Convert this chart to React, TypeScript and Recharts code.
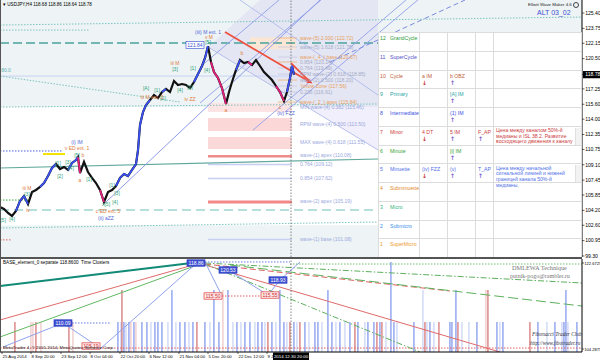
import React from 'react';
import {
  ComposedChart, Line, Area, Bar, Cell, Scatter, XAxis, YAxis, ReferenceArea, ReferenceLine,
} from 'recharts';

// ---------------- DATA ----------------
// Price path (bar index along time axis, close value)
const priceBar = [0, 4, 8, 12, 16, 20, 24, 28, 32, 36, 40, 44, 48, 52, 56, 60, 64, 68, 72, 76, 78, 80, 84, 88, 92, 96, 100, 104, 108, 112, 116, 120, 124, 128, 132, 136, 138, 140, 143, 146, 150, 154, 158, 162, 166, 170, 174, 178, 182, 186, 190, 194, 198, 202, 205, 208, 211, 214, 218, 222, 226, 229, 232, 236, 240, 244, 248, 252, 256, 260, 264, 268, 272, 276, 280, 284, 287, 290, 292, 294];
const priceClose = [104.56, 104.35, 103.92, 103.6, 104.13, 105.21, 105.74, 104.88, 106.17, 106.39, 106.71, 107.14, 107.89, 108.75, 109.18, 108.64, 108.86, 108.54, 109.29, 109.61, 109.93, 108.21, 109.4, 108.32, 107.68, 107.14, 106.39, 105.1, 106.17, 106.39, 106.82, 107.68, 108.11, 107.89, 108.54, 109.18, 110.68, 113.37, 114.77, 115.52, 116.06, 116.59, 116.27, 116.91, 117.24, 116.91, 118.1, 117.67, 117.77, 117.67, 117.34, 117.99, 118.85, 119.71, 120.57, 121.84, 120.14, 119.06, 118.42, 117.34, 115.63, 116.91, 117.99, 119.28, 120.35, 120.03, 120.14, 119.81, 120.35, 119.71, 119.06, 118.63, 118.2, 117.56, 116.91, 115.95, 116.91, 118.42, 119.71, 118.78];
const upWaves = [[16, 28], [40, 56], [68, 78], [116, 136], [136, 150], [162, 166], [194, 208], [236, 240], [287, 294]];
const downWaves = [[78, 80], [100, 104], [211, 218], [222, 226], [248, 252], [276, 284]];
const currentPrice = 118.78;
const cursorBar = 291;

// Main price axis ticks
const mainTicks = [125.4, 123.75, 122.15, 120.5, 118.78, 117.25, 115.6, 114.0, 112.35, 110.75, 109.1, 107.45, 105.85, 104.2, 102.6, 100.95, 99.3];

// Time axis
const xTickBars = [2, 31, 61, 90, 120, 149, 179, 208, 238, 267];
const xTickLabels = ['25 Aug 2014', '8 Sep 20:00', '23 Sep 12:00', '8 Oct 04:00', '22 Oct 20:00', '6 Nov 12:00', '21 Nov 04:00', '5 Dec 20:00', '22 Dec 12:00', '9 Jan 04:00'];
const cursorLabel = '2014.12.30 20:00';

// Fibonacci target zones (bar span, price range)
const zoneStart = 208;
const zoneEnd = 292;
const targetZones = [
  { id: 'min4', lo: 114.77, hi: 115.73 },
  { id: 'rpm4', lo: 112.73, hi: 114.12 },
  { id: 'max4', lo: 110.79, hi: 112.08 },
  { id: 'apex1', lo: 109.88, hi: 110.15 },
  { id: 'apex2', lo: 104.94, hi: 105.26 },
  { id: 'upper', lo: 121.5, hi: 122.8 },
];
const thinLevels = [109.12, 107.62, 101.08];
const upperLevels = [122.72, 121.75, 120.67, 120.14, 119.49, 118.85, 118.2, 117.56, 116.91, 115.84];

const levelLabels = [
  { v: 122.72, text: 'wave-(5) 2.000 (122.72)', tone: 'orange' },
  { v: 121.75, text: 'wave-(5) 1.618 (121.75)', tone: 'grey' },
  { v: 120.67, text: 'wave-(_4_) base (120.67)', tone: 'orange' },
  { v: 120.14, text: '0.854 (120.14)', tone: 'grey' },
  { v: 119.49, text: '0.764 (119.49)', tone: 'grey' },
  { v: 118.85, text: 'RPM wave-(2) 0.618 (118.85)', tone: 'grey' },
  { v: 118.2, text: 'wave-(2) 0.500 (118.20)', tone: 'grey' },
  { v: 117.56, text: 'Yellow Zone (117.56)', tone: 'orange' },
  { v: 116.91, text: '0.236 (116.91)', tone: 'grey' },
  { v: 115.84, text: 'wave-(_2_) apex (115.84)', tone: 'orange' },
  { v: 115.3, text: 'MIN wave-(4) 0.382 (115.46)', tone: 'blue' },
  { v: 113.5, text: 'RPM wave-(4) 0.500 (113.50)', tone: 'blue' },
  { v: 111.55, text: 'MAX wave-(4) 0.618 (111.55)', tone: 'blue' },
  { v: 110.08, text: 'wave-(1) apex (110.08)', tone: 'blue' },
  { v: 109.12, text: '0.764 (109.12)', tone: 'blue' },
  { v: 107.62, text: '0.854 (107.62)', tone: 'blue' },
  { v: 105.19, text: 'wave-(2) apex (105.19)', tone: 'blue' },
  { v: 101.08, text: 'wave-(1) base (101.08)', tone: 'blue' },
];
const levelLabelBar = 300;

// Wave labels
const waveLabels = [
  { x: 77, v: 111.54, text: '(i) IM', tone: 'blue' },
  { x: 77, v: 110.9, text: 'v ED ext. 1', tone: 'orange' },
  { x: 77, v: 110.15, text: '[5]', tone: 'green' },
  { x: 27, v: 106.6, text: 'iii M', tone: 'orange' },
  { x: 27, v: 105.9, text: '[3]', tone: 'green' },
  { x: 28, v: 104.24, text: 'iv', tone: 'orange' },
  { x: 12, v: 103.27, text: '[4]', tone: 'green' },
  { x: 3, v: 103.1, text: '[5]', tone: 'green' },
  { x: 58, v: 109.29, text: '[1]', tone: 'green' },
  { x: 60, v: 107.89, text: '[2]', tone: 'green' },
  { x: 68, v: 109.4, text: '[3]', tone: 'green' },
  { x: 71, v: 108.75, text: '[4]', tone: 'green' },
  { x: 80, v: 107.46, text: 'a', tone: 'orange' },
  { x: 83, v: 110.15, text: 'b', tone: 'orange' },
  { x: 89, v: 107.6, text: '[1]', tone: 'green' },
  { x: 112, v: 106.9, text: '[1]', tone: 'green' },
  { x: 117, v: 106.0, text: '[3]', tone: 'green' },
  { x: 115, v: 105.05, text: '[4]', tone: 'green' },
  { x: 106, v: 104.9, text: 'x[5]', tone: 'green' },
  { x: 108, v: 104.13, text: 'c ED ext. 5', tone: 'orange' },
  { x: 106, v: 103.38, text: '(ii) aZZ', tone: 'blue' },
  { x: 208, v: 123.36, text: '(iii) M ext. 1', tone: 'blue' },
  { x: 209, v: 122.82, text: 'v M', tone: 'orange' },
  { x: 208, v: 122.25, text: '[5]', tone: 'green' },
  { x: 175, v: 120.03, text: 'iii M', tone: 'orange' },
  { x: 175, v: 119.38, text: '[3]', tone: 'green' },
  { x: 193, v: 119.5, text: '[1]', tone: 'green' },
  { x: 190, v: 117.4, text: '[2]', tone: 'green' },
  { x: 207, v: 119.3, text: '[4]', tone: 'green' },
  { x: 180, v: 117.1, text: '[4]', tone: 'green' },
  { x: 157, v: 117.1, text: '[1]', tone: 'green' },
  { x: 163, v: 116.2, text: '[2]', tone: 'green' },
  { x: 146, v: 117.3, text: '[A]', tone: 'green' },
  { x: 152, v: 116.38, text: 'iii M ext. 3', tone: 'orange' },
  { x: 190, v: 116.16, text: 'iv ZZ', tone: 'orange' },
  { x: 242, v: 121.1, text: 'b', tone: 'orange' },
  { x: 226, v: 114.98, text: 'a', tone: 'orange' },
  { x: 280, v: 115.3, text: 'c', tone: 'orange' },
  { x: 286, v: 114.66, text: '(iv) FZZ', tone: 'blue' },
  { x: 6, v: 119.3, text: '80.0', tone: 'teal' },
];
const peakBox = { x: 195, v: 121.96, text: '121.84' };

// Trend / channel lines: pairs of (bar, price)
const mainLines = [
  { id: 'tealDash', pts: [[0, 122.18], [378, 122.18]] },
  { id: 'tealDot', pts: [[0, 124.11], [582, 124.97]] },
  { id: 'tealDot', pts: [[0, 123.57], [90, 123.57]] },
  { id: 'lightBlue', pts: [[0, 118.63], [290, 118.63]] },
  { id: 'tealDot', pts: [[0, 118.63], [180, 115.84]] },
  { id: 'tealDot', pts: [[0, 115.3], [378, 115.63]] },
  { id: 'tealSolid', pts: [[0, 108.75], [378, 109.72]] },
  { id: 'blueDot', pts: [[0, 110.58], [63, 110.58]] },
  { id: 'yellow', pts: [[43, 110.25], [65, 110.25]] },
  { id: 'greenDot', pts: [[0, 105.31], [30, 105.31]] },
  { id: 'tealLongDash', pts: [[0, 104.24], [378, 104.24]] },
  { id: 'tealDot', pts: [[0, 102.31], [378, 102.95]] },
  { id: 'redDot', pts: [[0, 101.03], [12, 101.03]] },
  { id: 'trend', pts: [[105, 105.0], [320, 126.8]] },
  { id: 'fork', pts: [[200, 115.73], [321, 126.8]] },
  { id: 'fork', pts: [[200, 119.6], [279, 126.8]] },
  { id: 'fork', pts: [[253, 112.83], [406, 126.8]] },
  { id: 'fork', pts: [[285, 114.77], [420, 127.0]] },
  { id: 'forkDash', pts: [[330, 120.14], [465, 126.8]] },
  { id: 'reaction', pts: [[208, 121.75], [378, 110.69]] },
  { id: 'reaction', pts: [[240, 126.8], [378, 116.59]] },
  { id: 'redThick', pts: [[225, 123.36], [310, 118.0]] },
  { id: 'redThick', pts: [[291, 120.03], [309, 118.1]] },
];
const arrowTip = { x: 310, v: 118.0 };
const pitchforkBand = [
  { x: 208, band: [121.75, 121.75] },
  { x: 260, band: [118.36, 126.8] },
  { x: 378, band: [110.69, 126.8] },
];

// Indicator: time clusters (bar, level, kind)
const S = 110.06, T = 116.9, VT = 122.9;
const clusterBars = [15, 31, 33, 36, 41, 69, 73, 118, 121, 122, 124, 126, 129, 131, 134, 136, 142, 147, 151, 155, 158, 162, 168, 172, 176, 180, 185, 189, 193, 197, 205, 210, 214, 219, 223, 228, 233, 237, 241, 245, 250, 255, 258, 262, 265, 268, 272, 276, 280, 284, 287, 290, 294, 297, 300, 305, 309, 315, 318, 322, 328, 332, 336, 340, 345, 350, 355, 358, 365, 368, 374, 377, 380, 382, 386, 391, 394, 397, 414, 423, 425, 427, 430, 434, 439, 450, 452, 456, 458, 462, 469, 477, 486, 488, 497, 500, 503, 530, 538, 547, 555, 562, 564, 566, 568, 577];
const clusterLevel = [S, S, S, S, S, S, S, S, S, T, S, S, S, S, S, S, S, S, S, S, S, S, S, T, S, S, S, S, S, S, S, S, T, S, T, T, S, S, S, S, S, S, S, S, S, S, S, S, T, S, S, S, S, S, S, S, S, S, S, S, T, S, S, S, S, S, S, S, S, S, S, S, S, S, S, VT, S, S, S, T, S, S, S, S, S, S, S, T, S, S, S, S, T, T, S, S, S, S, S, S, S, S, S, T, S, S];
const clusterKind = ['R', 'P', 'P', 'R', 'P', 'R', 'P', 'B', 'L', 'R', 'B', 'L', 'B', 'P', 'B', 'P', 'B', 'B', 'L', 'B', 'B', 'B', 'L', 'B', 'L', 'B', 'B', 'L', 'B', 'R', 'B', 'L', 'B', 'B', 'P', 'B', 'L', 'B', 'L', 'B', 'B', 'L', 'B', 'B', 'L', 'R', 'B', 'L', 'B', 'B', 'L', 'R', 'B', 'L', 'R', 'B', 'L', 'B', 'B', 'L', 'B', 'B', 'L', 'B', 'L', 'B', 'R', 'B', 'L', 'B', 'B', 'R', 'B', 'R', 'L', 'B', 'B', 'L', 'B', 'L', 'R', 'L', 'B', 'L', 'R', 'B', 'B', 'B', 'R', 'L', 'L', 'B', 'P', 'R', 'B', 'L', 'B', 'R', 'B', 'L', 'B', 'L', 'B', 'B', 'L', 'B'];

const indLines = [
  { id: 'tealThick', pts: [[0, 117.76], [200, 122.89]] },
  { id: 'red', pts: [[0, 110.49], [200, 122.67]] },
  { id: 'green', pts: [[0, 106.85], [200, 122.46]] },
  { id: 'blue', pts: [[100, 104.29], [198, 122.89]] },
  { id: 'blue', pts: [[3, 104.72], [63, 109.85], [100, 104.5]] },
  { id: 'blueDot', pts: [[63, 109.85], [110, 109.85]] },
  { id: 'redDot', pts: [[0, 104.5], [582, 104.5]] },
  { id: 'greenDashDot', pts: [[205, 122.67], [582, 118.4]] },
  { id: 'redDash', pts: [[205, 122.46], [450, 116.69]] },
  { id: 'greenLongDash', pts: [[230, 122.25], [582, 113.48]] },
  { id: 'red', pts: [[205, 122.25], [500, 103.65]] },
  { id: 'greenDashDot', pts: [[205, 122.46], [420, 103.65]] },
  { id: 'blue', pts: [[205, 122.89], [222, 115.62]] },
  { id: 'blue', pts: [[228, 121.18], [268, 115.83]] },
  { id: 'blue', pts: [[268, 115.83], [280, 119.04], [300, 122.89]] },
  { id: 'redDot', pts: [[210, 115.62], [270, 115.62]] },
  { id: 'blueDot', pts: [[205, 122.89], [290, 122.89]] },
  { id: 'greenDot', pts: [[290, 122.46], [582, 122.46]] },
];
const indBoxes = [
  { x: 196, v: 122.67, text: '118.86', tone: 'blue' },
  { x: 228, v: 121.18, text: '120.53', tone: 'blue' },
  { x: 278, v: 119.04, text: '118.93', tone: 'blue' },
  { x: 213, v: 115.62, text: '115.50', tone: 'red' },
  { x: 270, v: 115.83, text: '115.55', tone: 'red' },
  { x: 63, v: 109.85, text: '110.09', tone: 'blue' },
  { x: 91, v: 104.93, text: '105.19', tone: 'red' },
];
const indTicks = [122.6725, 104.2875];

// Wave degree table
const degreeNames = ['GrandCycle', 'SuperCycle', 'Cycle', 'Primary', 'Intermediate', 'Minor', 'Minute', 'Minuette', 'Subminuette', 'Micro', 'Submicro', 'SuperMicro'];
const degreeCells = [
  [], [],
  [{ c: 1, t: 'a IM', a: 'd' }, { c: 2, t: 'b OBZ', a: 'u' }],
  [{ c: 2, t: '[A] IM', a: 'u' }],
  [{ c: 2, t: '(1) IM', a: 'u' }],
  [{ c: 1, t: '4 DT', a: 'd' }, { c: 2, t: '5 IM', a: 'u' }, { c: 3, t: 'F_AP', a: 'u' }, { c: 4, t: 'Цена между каналом 50%-й медианы и ISL 38.2. Развитие восходящего движения к каналу' }],
  [{ c: 2, t: '[i] IM', a: 'u' }],
  [{ c: 1, t: '(iv) FZZ', a: 'd' }, { c: 2, t: '(v)', a: 'u' }, { c: 3, t: 'T_AP', a: 'u' }, { c: 4, t: 'Цена между начальной сигнальной линией и нижней границей канала 50%-й медианы.' }],
  [], [], [], [],
];

// ---------------- STYLES ----------------
const FONT = '"Liberation Sans", Arial, sans-serif';
const MAIN_DOMAIN = [99.19, 126.8];
const IND_DOMAIN = [103.65, 123.53];
const X_DOMAIN = [0, 582];
const degreeColors = ['#2e9a3a', '#5050c8', '#c0623c', '#2aa3a3', '#4050e0', '#cc4040', '#3aa43a', '#5070e8', '#e08a30', '#3ab883', '#3a90e8', '#ee9a30'];
const toneColor = { blue: '#5468d8', orange: '#e07a3a', green: '#2fa07a', teal: '#5ab0b0', grey: '#a0a4c0' };
const levelTone = { orange: '#e8a060', grey: '#a4aac8', blue: '#9aa8e0' };
const lineStyle = {
  tealDash: { stroke: '#4aa39a', w: 1.3, d: '9 4' },
  tealDot: { stroke: '#7cc4c0', w: 1, d: '1.5 1.5' },
  lightBlue: { stroke: '#c8d2f4', w: 1, d: undefined },
  tealSolid: { stroke: '#5fa89c', w: 1.2, d: undefined },
  blueDot: { stroke: '#4a5ee0', w: 1, d: '1.5 1.5' },
  yellow: { stroke: '#f2e200', w: 2, d: undefined },
  greenDot: { stroke: '#3aa83a', w: 1, d: '1.5 1.5' },
  tealLongDash: { stroke: '#9fd4d0', w: 1.3, d: '9 5' },
  redDot: { stroke: '#e06060', w: 1, d: '1.5 1.5' },
  trend: { stroke: '#8f9ce8', w: 1, d: undefined },
  fork: { stroke: '#9aa6ea', w: 1, d: undefined },
  forkDash: { stroke: '#7a8ae0', w: 1, d: '5 3' },
  reaction: { stroke: '#a8b2ea', w: 0.8, d: undefined },
  redThick: { stroke: '#ee5040', w: 1.8, d: undefined },
};
const indStyle = {
  tealThick: { stroke: '#128a78', w: 2.2, d: undefined },
  red: { stroke: '#e06a6a', w: 1, d: undefined },
  green: { stroke: '#62b862', w: 1, d: undefined },
  blue: { stroke: '#8fa2ee', w: 1, d: undefined },
  blueDot: { stroke: '#6a7ee8', w: 1, d: '1.5 1.5' },
  redDot: { stroke: '#e06060', w: 1, d: '1.5 1.5' },
  greenDot: { stroke: '#70c070', w: 1, d: '1.5 1.5' },
  greenDashDot: { stroke: '#5cb05c', w: 1, d: '6 2 1.5 2' },
  redDash: { stroke: '#e06060', w: 1, d: '6 3' },
  greenLongDash: { stroke: '#5cb05c', w: 1, d: '10 4' },
};
const zoneFill = { min4: '#fde4e4', rpm4: '#fcd7d7', max4: '#fcd9d9', apex1: '#f08a8a', apex2: '#f28888', upper: '#fbe6d6' };
const clusterColor = { B: '#4f6ee6', L: '#b4c2f2', R: '#c43c3c', P: '#e8b0b0' };

// ---------------- HELPERS ----------------
const inRanges = (x, ranges) => ranges.some(([a, b]) => x >= a && x <= b);
const priceData = priceBar.map((x, i) => ({ x, v: priceClose[i] }));
const upData = priceBar.map((x, i) => ({ x, v: inRanges(x, upWaves) ? priceClose[i] : null }));
const downData = priceBar.map((x, i) => ({ x, v: inRanges(x, downWaves) ? priceClose[i] : null }));
const ptsData = (pts) => pts.map(([x, v]) => ({ x, v }));
const clusterData = clusterBars.map((x, i) => ({ x, v: clusterLevel[i], k: clusterKind[i] }));
const levelLabelData = levelLabels.map((l) => ({ x: levelLabelBar, v: l.v, text: l.text, tone: l.tone }));

const WaveText = (p) => {
  const { cx, cy, payload } = p;
  if (cx == null || cy == null) return null;
  return (
    <text x={cx} y={cy} dy={1.8} fontSize={5} textAnchor="middle" fontFamily={FONT} fill={toneColor[payload.tone]}>{payload.text}</text>
  );
};
const LevelText = (p) => {
  const { cx, cy, payload } = p;
  if (cx == null || cy == null) return null;
  return (
    <text x={cx} y={cy} dy={1.8} fontSize={5} textAnchor="start" fontFamily={FONT} fill={levelTone[payload.tone]}>{payload.text}</text>
  );
};
const PeakBox = (p) => {
  const { cx, cy, payload } = p;
  if (cx == null) return null;
  return (
    <g>
      <rect x={cx - 9} y={cy - 3.5} width={18} height={7} fill="#fff" stroke="#4a60d8" strokeWidth={0.7} />
      <text x={cx} y={cy} dy={1.8} fontSize={5} textAnchor="middle" fontFamily={FONT} fill="#3a50d0">{payload.text}</text>
    </g>
  );
};
const ArrowHead = (p) => {
  const { cx, cy } = p;
  if (cx == null) return null;
  const dx = 0.86, dy = 0.51, nx = -0.51, ny = 0.86;
  const tip = [cx + 3 * dx, cy + 3 * dy];
  const b = [cx - 3 * dx, cy - 3 * dy];
  const pts = `${tip[0]},${tip[1]} ${b[0] + 2.6 * nx},${b[1] + 2.6 * ny} ${b[0] - 2.6 * nx},${b[1] - 2.6 * ny}`;
  return <polygon points={pts} fill="#ee4030" />;
};
const IndBox = (p) => {
  const { cx, cy, payload } = p;
  if (cx == null) return null;
  const blue = payload.tone === 'blue';
  return (
    <g>
      <rect x={cx - 9} y={cy - 3.2} width={18} height={6.4} fill={blue ? '#3f52d2' : '#fde8e8'} stroke={blue ? '#2a3cc0' : '#e04040'} strokeWidth={0.7} />
      <text x={cx} y={cy} dy={1.7} fontSize={5} textAnchor="middle" fontFamily={FONT} fill={blue ? '#ffffff' : '#d03030'}>{payload.text}</text>
    </g>
  );
};

const MainYTick = (p) => {
  const { x, y, payload } = p;
  const cur = payload.value === currentPrice;
  return (
    <g>
      <line x1={x} x2={x + 2.5} y1={y} y2={y} stroke="#000" strokeWidth={0.6} />
      {cur ? <rect x={x + 1} y={y - 3.6} width={18} height={7.2} fill="#000" /> : null}
      <text x={x + 3.2} y={y} dy={1.8} fontSize={5.1} fontFamily={FONT} fill={cur ? '#fff' : '#000'}>{payload.value.toFixed(2)}</text>
    </g>
  );
};
const IndYTick = (p) => {
  const { x, y, payload } = p;
  return (
    <g>
      <line x1={x} x2={x + 2} y1={y} y2={y} stroke="#000" strokeWidth={0.6} />
      <text x={x + 2.3} y={y} dy={1.6} fontSize={4.1} fontFamily={FONT} fill="#000">{payload.value.toFixed(4)}</text>
    </g>
  );
};
const XTick = (p) => {
  const { x, y, payload } = p;
  if (payload.value === cursorBar) {
    return (
      <g>
        <rect x={x - 18} y={y + 0.5} width={36} height={7.5} fill="#000" />
        <text x={x} y={y + 6} fontSize={4.4} textAnchor="middle" fontFamily={FONT} fill="#fff">{cursorLabel}</text>
      </g>
    );
  }
  const idx = xTickBars.indexOf(payload.value);
  return (
    <g>
      <line x1={x} x2={x} y1={y} y2={y + 2} stroke="#000" strokeWidth={0.6} />
      <text x={x + 0.5} y={y + 6.3} fontSize={4.3} textAnchor="start" fontFamily={FONT} fill="#000">{xTickLabels[idx]}</text>
    </g>
  );
};

function MainChart() {
  return (
    <ComposedChart width={600} height={262} margin={{ top: 0, right: 0, bottom: 5, left: 0 }}>
      <XAxis type="number" dataKey="x" domain={X_DOMAIN} hide allowDataOverflow />
      <YAxis orientation="right" width={18} domain={MAIN_DOMAIN} allowDataOverflow ticks={mainTicks} interval={0}
        tick={MainYTick} tickLine={false} tickSize={0} tickMargin={0} axisLine={{ stroke: '#000', strokeWidth: 1 }} />
      <ReferenceArea x1={0} x2={582} y1={115.3} y2={126.8} fill="#eef4f5" fillOpacity={1} stroke="none" ifOverflow="hidden" />
      <ReferenceArea x1={0} x2={378} y1={99.19} y2={102.6} fill="#eef4f5" fillOpacity={1} stroke="none" ifOverflow="hidden" />
      <Area data={pitchforkBand} dataKey="band" stroke="none" fill="#c9c1f0" fillOpacity={0.25} isAnimationActive={false} />
      {targetZones.map((z) => (
        <ReferenceArea key={z.id} x1={z.id === 'upper' ? 250 : zoneStart} x2={z.id === 'upper' ? 296 : zoneEnd}
          y1={z.lo} y2={z.hi} fill={zoneFill[z.id]} fillOpacity={1} stroke="none" ifOverflow="hidden" />
      ))}
      {thinLevels.map((v) => (
        <ReferenceLine key={'t' + v} segment={[{ x: zoneStart, y: v }, { x: zoneEnd, y: v }]} stroke="#c6cef2" strokeWidth={1.5} />
      ))}
      {upperLevels.map((v, i) => (
        <ReferenceLine key={'u' + v} segment={[{ x: 278, y: v }, { x: 297, y: v }]} stroke={i % 3 === 0 ? '#f0b070' : '#c8c8e0'} strokeWidth={0.8} />
      ))}
      {mainLines.map((l, i) => {
        const s = lineStyle[l.id];
        return <Line key={'ml' + i} data={ptsData(l.pts)} dataKey="v" stroke={s.stroke} strokeWidth={s.w} strokeDasharray={s.d} dot={false} isAnimationActive={false} />;
      })}
      <ReferenceLine x={cursorBar} stroke="#666" strokeDasharray="1.5 1.5" strokeWidth={0.8} />
      <Line data={priceData} dataKey="v" stroke="#111" strokeWidth={2.2} dot={false} isAnimationActive={false} />
      <Line data={upData} dataKey="v" stroke="#3a50f0" strokeWidth={1.8} dot={false} connectNulls={false} isAnimationActive={false} />
      <Line data={downData} dataKey="v" stroke="#e0207a" strokeWidth={1.8} dot={false} connectNulls={false} isAnimationActive={false} />
      <Scatter data={[arrowTip]} dataKey="v" shape={ArrowHead} isAnimationActive={false} />
      <Scatter data={waveLabels} dataKey="v" shape={WaveText} isAnimationActive={false} />
      <Scatter data={levelLabelData} dataKey="v" shape={LevelText} isAnimationActive={false} />
      <Scatter data={[peakBox]} dataKey="v" shape={PeakBox} isAnimationActive={false} />
    </ComposedChart>
  );
}

function IndicatorChart() {
  return (
    <ComposedChart width={600} height={102} data={clusterData} margin={{ top: 0, right: 0, bottom: 0, left: 0 }}>
      <XAxis type="number" dataKey="x" domain={X_DOMAIN} allowDataOverflow ticks={[...xTickBars, cursorBar]} interval={0}
        height={9} tick={XTick} tickLine={false} tickSize={0} tickMargin={0} axisLine={{ stroke: '#000', strokeWidth: 1 }} />
      <YAxis orientation="right" width={18} domain={IND_DOMAIN} allowDataOverflow ticks={indTicks} interval={0}
        tick={IndYTick} tickLine={false} tickSize={0} tickMargin={0} axisLine={{ stroke: '#000', strokeWidth: 1 }} />
      <Bar dataKey="v" barSize={1.6} isAnimationActive={false}>
        {clusterData.map((d, i) => <Cell key={i} fill={clusterColor[d.k]} />)}
      </Bar>
      {indLines.map((l, i) => {
        const s = indStyle[l.id];
        return <Line key={'il' + i} data={ptsData(l.pts)} dataKey="v" stroke={s.stroke} strokeWidth={s.w} strokeDasharray={s.d} dot={false} isAnimationActive={false} />;
      })}
      <ReferenceLine x={cursorBar} stroke="#666" strokeDasharray="1.5 1.5" strokeWidth={0.8} />
      <Scatter data={indBoxes} dataKey="v" shape={IndBox} isAnimationActive={false} />
    </ComposedChart>
  );
}

const colEdges = [378, 419, 447, 475, 493, 581];
const TABLE_TOP = 32;
const ROW_H = 18.75;

function DegreeTable() {
  return (
    <div style={{ position: 'absolute', left: colEdges[0], top: TABLE_TOP, width: colEdges[5] - colEdges[0], height: ROW_H * 12, background: '#fff', fontFamily: FONT }}>
      {degreeNames.map((name, i) => {
        const color = degreeColors[i];
        return (
          <div key={name} style={{ position: 'absolute', left: 0, top: i * ROW_H, width: '100%', height: ROW_H, borderTop: '1px solid #dcdcdc', boxSizing: 'border-box' }}>
            <span style={{ position: 'absolute', left: 2, top: 2, fontSize: 5.2, color }}>{12 - i}</span>
            <span style={{ position: 'absolute', left: 12, top: 2, fontSize: 5.2, color }}>{name}</span>
            {degreeCells[i].map((c) => {
              const left = colEdges[c.c] - colEdges[0] + 3;
              if (c.c === 4) {
                return (
                  <div key={c.c} style={{ position: 'absolute', left, top: 1.5, width: 78, fontSize: 5.1, lineHeight: '5.6px', color }}>{c.t}</div>
                );
              }
              return (
                <div key={c.c} style={{ position: 'absolute', left, top: 2, fontSize: 5.2, color, whiteSpace: 'nowrap' }}>
                  <div>{c.t}</div>
                  <div style={{ fontFamily: '"DejaVu Sans", sans-serif', fontWeight: 'bold', fontSize: 6, lineHeight: '7px', color: c.a === 'd' ? '#cc2b2b' : '#7a5ad0' }}>{c.a === 'd' ? '↓' : '↑'}</div>
                </div>
              );
            })}
            {degreeCells[i].some((c) => c.c === 4) ? (
              <div style={{ position: 'absolute', right: 0, top: 1, width: 5, height: ROW_H - 2, background: '#f2f2f2', borderLeft: '1px solid #e0e0e0' }} />
            ) : null}
          </div>
        );
      })}
      {colEdges.map((e, i) => (
        <div key={'v' + i} style={{ position: 'absolute', left: e - colEdges[0], top: 0, width: 1, height: ROW_H * 12, background: '#dcdcdc' }} />
      ))}
    </div>
  );
}

export default function App() {
  return (
    <div style={{ position: 'absolute', left: 0, top: 0, width: 600, height: 361, background: '#fff', overflow: 'hidden', fontFamily: FONT }}>
      <div style={{ position: 'absolute', left: 0, top: 0 }}><MainChart /></div>
      <div style={{ position: 'absolute', left: 0, top: 259 }}><IndicatorChart /></div>
      <DegreeTable />
      <div style={{ position: 'absolute', left: 0, top: 257, width: 582, height: 2, background: '#555' }} />
      <div style={{ position: 'absolute', left: 0, top: 0, width: 1, height: 352, background: '#555' }} />
      <div style={{ position: 'absolute', left: 3, top: 2, fontSize: 4.6, color: '#000', whiteSpace: 'nowrap' }}>▾ USDJPY,H4 118.68 118.86 118.64 118.78</div>
      <div style={{ position: 'absolute', left: 528, top: 2, fontSize: 4.4, color: '#222', whiteSpace: 'nowrap' }}>Elliott Wave Maker 4.6 <span style={{ display: 'inline-block', width: 4, height: 4, borderRadius: 3, border: '0.7px solid #444', verticalAlign: 'middle' }} /></div>
      <div style={{ position: 'absolute', left: 537, top: 9, fontSize: 7, color: '#3a50d0', whiteSpace: 'nowrap' }}>ALT 03_02</div>
      <div style={{ position: 'absolute', left: 3, top: 260, fontSize: 4.6, color: '#000', whiteSpace: 'nowrap' }}>BASE_element_0 separate 118.8600&nbsp;&nbsp;Time Clusters</div>
      <div style={{ position: 'absolute', left: 512, top: 264, fontSize: 6.3, color: '#777', fontFamily: '"Liberation Serif", serif', whiteSpace: 'nowrap' }}>DMLEWA Technique</div>
      <div style={{ position: 'absolute', left: 510, top: 272.5, fontSize: 6, color: '#777', fontFamily: '"Liberation Serif", serif', whiteSpace: 'nowrap' }}>putnik-pogo@rambler.ru</div>
      <div style={{ position: 'absolute', left: 532, top: 331, fontSize: 5.4, color: '#334', fontStyle: 'italic', fontFamily: '"Liberation Serif", serif', whiteSpace: 'nowrap' }}>Fibonacci Trader Club</div>
      <div style={{ position: 'absolute', left: 530, top: 339.5, fontSize: 5.2, color: '#334', fontStyle: 'italic', fontFamily: '"Liberation Serif", serif', whiteSpace: 'nowrap' }}>http://www.fibotrader.ru</div>
      <div style={{ position: 'absolute', left: 3, top: 344.5, fontSize: 4.4, color: '#222', whiteSpace: 'nowrap' }}>MetaTrader 4, © 2001-2014, MetaQuotes Software Corp.</div>
    </div>
  );
}
